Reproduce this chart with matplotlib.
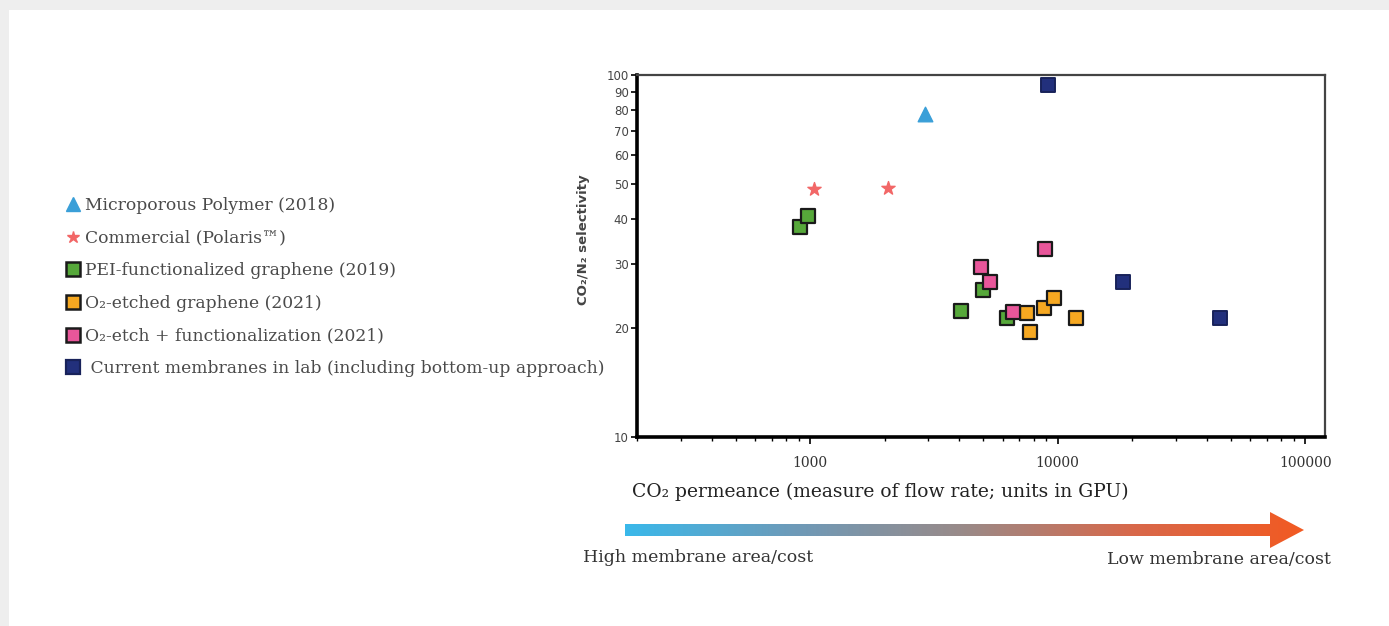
import numpy as np
import matplotlib
matplotlib.use("Agg")
import matplotlib.pyplot as plt
from matplotlib.lines import Line2D
from matplotlib.patches import Polygon, Rectangle
from matplotlib.colors import LinearSegmentedColormap
from matplotlib.ticker import FixedLocator, NullFormatter, FixedFormatter

# permeance (GPU) and CO2/N2 selectivity for each membrane group
polymer_x = [2900]
polymer_y = [78]
commercial_x = [1040, 2070]
commercial_y = [48.4, 48.6]
pei_x = [910, 980, 4080, 5010, 6220]
pei_y = [38.0, 40.8, 22.3, 25.5, 21.3]
etched_x = [7490, 7710, 8770, 9640, 11900]
etched_y = [22.0, 19.5, 22.7, 24.2, 21.3]
etch_func_x = [4880, 5310, 8850, 6580]
etch_func_y = [29.5, 26.8, 33.0, 22.1]
lab_x = [9100, 18300, 45300]
lab_y = [93.8, 26.8, 21.3]

legend_labels = [
    "Microporous Polymer (2018)",
    "Commercial (Polaris\u2122)",
    "PEI-functionalized graphene (2019)",
    "O\u2082-etched graphene (2021)",
    "O\u2082-etch + functionalization (2021)",
    " Current membranes in lab (including bottom-up approach)",
]

y_ticks = [10, 20, 30, 40, 50, 60, 70, 80, 90, 100]
x_ticks = [1000, 10000, 100000]

W, H = 1389, 626
fig = plt.figure(figsize=(W / 100, H / 100), dpi=100, facecolor="#eeeeee")

# white panel inside the grey frame
fig.patches.append(Rectangle((9 / W, 0), 1 - 9 / W, (H - 10) / H,
                             transform=fig.transFigure, facecolor="white",
                             edgecolor="none", zorder=-5))

serif = "DejaVu Serif"

ax = fig.add_axes([637 / W, 189 / H, 688 / W, 362 / H])
ax.set_xscale("log")
ax.set_yscale("log")
ax.set_xlim(200, 120000)
ax.set_ylim(10, 100)

sq = dict(marker="s", s=105, linewidths=1.6, edgecolors="#1a1a1a", zorder=5)
ax.scatter(polymer_x, polymer_y, marker="^", s=110, color="#3a9fd8", zorder=5)
ax.scatter(commercial_x, commercial_y, marker="*", s=100, color="#f26767", zorder=5)
ax.scatter(pei_x, pei_y, color="#56a83a", **sq)
ax.scatter(etched_x, etched_y, color="#f6a821", **sq)
ax.scatter(etch_func_x, etch_func_y, color="#e8569a", **sq)
ax.scatter(lab_x, lab_y, color="#22307c", marker="s", s=105, linewidths=1.4,
           edgecolors="#18225a", zorder=5)

# axis styling
ax.yaxis.set_major_locator(FixedLocator(y_ticks))
ax.yaxis.set_major_formatter(FixedFormatter([str(v) for v in y_ticks]))
ax.yaxis.set_minor_locator(FixedLocator([]))
ax.xaxis.set_major_locator(FixedLocator(x_ticks))
ax.xaxis.set_major_formatter(FixedFormatter([str(v) for v in x_ticks]))
ax.xaxis.set_minor_formatter(NullFormatter())
ax.tick_params(axis="y", direction="out", length=4, width=1.2, labelsize=8.5,
               pad=2, labelcolor="#444444")
ax.tick_params(axis="x", which="major", direction="out", length=5, width=1.2,
               labelsize=10, pad=9, labelcolor="#333333")
ax.tick_params(axis="x", which="minor", direction="out", length=3, width=1.0)
for lbl in ax.get_xticklabels():
    lbl.set_fontfamily(serif)
ax.spines["left"].set_linewidth(2.6)
ax.spines["bottom"].set_linewidth(2.6)
ax.spines["top"].set_linewidth(1.6)
ax.spines["right"].set_linewidth(1.6)
ax.spines["top"].set_color("#444444")
ax.spines["right"].set_color("#444444")

fig.text(583 / W, 1 - 240 / H, "CO\u2082/N\u2082 selectivity", rotation=90,
         ha="center", va="center", fontsize=9.5, fontweight="bold",
         color="#444444")
fig.text(880 / W, 1 - 492 / H,
         "CO\u2082 permeance (measure of flow rate; units in GPU)",
         ha="center", va="center", fontsize=13.5, family=serif, color="#222222")

# legend drawn on the left side
handles = [
    Line2D([], [], marker="^", color="#3a9fd8", ls="none", markersize=10),
    Line2D([], [], marker="*", color="#f26767", ls="none", markersize=9),
    Line2D([], [], marker="s", color="#56a83a", mec="#1a1a1a", mew=1.8, ls="none", markersize=10),
    Line2D([], [], marker="s", color="#f6a821", mec="#1a1a1a", mew=1.8, ls="none", markersize=10),
    Line2D([], [], marker="s", color="#e8569a", mec="#1a1a1a", mew=1.8, ls="none", markersize=10),
    Line2D([], [], marker="s", color="#22307c", mec="#18225a", mew=1.6, ls="none", markersize=10),
]
fig.legend(handles, legend_labels, loc="upper left",
           bbox_to_anchor=(59 / W, 1 - 190 / H), frameon=False,
           prop={"family": serif, "size": 12.3}, labelspacing=0.92,
           handlelength=0.8, handletextpad=0.3, borderaxespad=0,
           labelcolor="#4a4a4a")

# gradient arrow under the plot
ov = fig.add_axes([0, 0, 1, 1], facecolor="none")
ov.set_xlim(0, W)
ov.set_ylim(H, 0)
ov.axis("off")
shaft_y, half = 530, 6
head_x, tip_x, head_half = 1270, 1304, 18
arrow = Polygon([(625, shaft_y - half), (head_x, shaft_y - half),
                 (head_x, shaft_y - head_half), (tip_x, shaft_y),
                 (head_x, shaft_y + head_half), (head_x, shaft_y + half),
                 (625, shaft_y + half)], closed=True, facecolor="none",
                edgecolor="none")
ov.add_patch(arrow)
cmap = LinearSegmentedColormap.from_list(
    "cost", ["#3ab8ea", "#6e9ab8", "#9a8a88", "#d8684a", "#f25a22"])
grad = np.linspace(0, 1, 512).reshape(1, -1)
img = ov.imshow(grad, cmap=cmap, aspect="auto",
                extent=(625, tip_x, shaft_y + head_half, shaft_y - head_half))
img.set_clip_path(arrow)
ov.set_xlim(0, W)
ov.set_ylim(H, 0)

fig.text(583 / W, 1 - 557 / H, "High membrane area/cost", ha="left",
         va="center", fontsize=12.5, family=serif, color="#333333")
fig.text(1331 / W, 1 - 559 / H, "Low membrane area/cost", ha="right",
         va="center", fontsize=12.5, family=serif, color="#333333")

fig.savefig("out.png", dpi=100, facecolor=fig.get_facecolor())
